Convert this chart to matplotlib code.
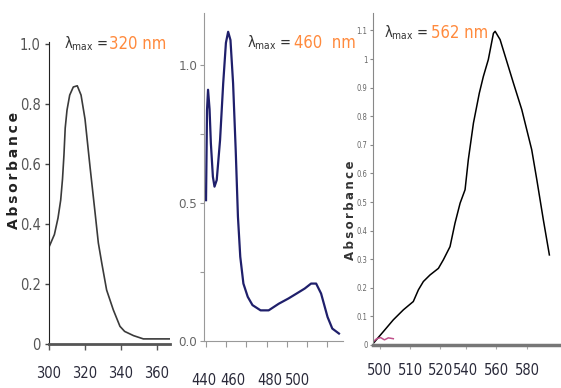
import matplotlib
matplotlib.use("Agg")
import matplotlib.pyplot as plt

# ---- data ----
wl_1 = [300.2, 303, 305, 306.5, 307.5, 308.3, 309, 310, 311.5, 313.5, 315.7, 317.8,
        320, 322.8, 325.6, 327.4, 329.3, 332, 335.7, 339.4, 342, 346.9, 352.4, 367]
abs_1 = [0.326, 0.365, 0.42, 0.48, 0.55, 0.63, 0.72, 0.78, 0.83, 0.857, 0.861, 0.83,
         0.75, 0.59, 0.437, 0.337, 0.27, 0.18, 0.114, 0.059, 0.042, 0.028, 0.017, 0.017]

wl_2 = [440, 441, 442, 443.5, 444.8, 446.8, 448.4, 450.6, 453.9, 457, 459.7, 461.9,
        464.2, 466.8, 469.4, 471.6, 473.9, 477, 481.3, 486, 494, 502, 512, 521.6,
        529.7, 537.7, 544, 549, 553.9, 560.3, 565, 571.6]
abs_2 = [0.51, 0.837, 0.91, 0.84, 0.716, 0.595, 0.559, 0.583, 0.728, 0.933, 1.08, 1.12,
         1.09, 0.933, 0.69, 0.45, 0.305, 0.208, 0.16, 0.13, 0.111, 0.111, 0.135, 0.154,
         0.172, 0.19, 0.208, 0.208, 0.172, 0.087, 0.045, 0.027]

wl_3 = [480.8, 487.3, 493.7, 500.2, 506.6, 509.9, 513.1, 517.4, 522.8, 526, 530.3,
        533.5, 536.8, 540, 542.1, 545.4, 549.2, 551.8, 555, 558.3, 559.4, 562.6, 566.9,
        571.2, 576.6, 579.8, 583, 586.3, 590.5, 594.4]
abs_3 = [0.006, 0.047, 0.088, 0.123, 0.152, 0.193, 0.222, 0.245, 0.268, 0.298, 0.344,
         0.426, 0.496, 0.543, 0.648, 0.776, 0.881, 0.939, 0.998, 1.09, 1.097, 1.068,
         0.992, 0.916, 0.823, 0.753, 0.683, 0.578, 0.438, 0.315]
# small blank trace in panel 3
wl_3b = [480.8, 483, 485.5, 488, 490.5, 493.7]
abs_3b = [0.012, 0.022, 0.026, 0.018, 0.025, 0.022]

x1_ticks = [300, 320, 340, 360]
y1_ticks = [0, 0.2, 0.4, 0.6, 0.8, 1.0]
y1_labels = ["0", "0.2", "0.4", "0.6", "0.8", "1.0"]

x2_ticks = [440, 460, 480, 500, 520, 540, 560]
x2_label_pos = [438, 467, 503, 531]
x2_labels = ["440", "460", "480", "500"]
y2_ticks = [0, 0.25, 0.5, 0.75, 1.0]
y2_labels = ["0.0", "", "0.5", "", "1.0"]

x3_label_pos = [485, 504.5, 524, 540.6, 560, 580]
x3_labels = ["500", "510", "520", "540", "560", "580"]
y3_ticks = [0, 0.1, 0.2, 0.3, 0.4, 0.5, 0.6, 0.7, 0.8, 0.9, 1.0, 1.1]
y3_labels = ["0", "0.1", "0.2", "0.3", "0.4", "0.5", "0.6", "0.7", "0.8", "0.9", "1", "1.1"]

lam_max = ["320 nm", "460  nm", "562 nm"]

plt.rcParams["font.family"] = ["DejaVu Sans"]
plt.rcParams["font.stretch"] = "condensed"
plt.rcParams["mathtext.default"] = "regular"

W, H = 561, 388
fig = plt.figure(figsize=(W / 100, H / 100), dpi=100)

def box(l, t, r, b):
    return [l / W, 1 - b / H, (r - l) / W, (b - t) / H]

def px(x, y):
    return x / W, 1 - y / H

ORANGE = "#ff8a3d"
DARK = "#333333"

ax1 = fig.add_axes(box(49, 42, 170, 344))
ax2 = fig.add_axes(box(204, 13, 343, 341))
ax3 = fig.add_axes(box(373, 13, 561, 345))

for ax in (ax1, ax2, ax3):
    ax.spines["top"].set_visible(False)
    ax.spines["right"].set_visible(False)
    ax.set_facecolor("none")

# ---- panel 1 ----
ax1.plot(wl_1, abs_1, color="#3a3a3a", lw=1.2)
ax1.set_xlim(300, 367.2)
ax1.set_ylim(0, 1.007)
ax1.set_xticks(x1_ticks)
ax1.set_yticks(y1_ticks, y1_labels)
ax1.spines["left"].set_color("#222222")
ax1.spines["bottom"].set_color("#555555")
ax1.spines["bottom"].set_linewidth(2)
ax1.tick_params(axis="x", length=4, width=1, color="#555555", pad=12,
                labelsize=10.5, labelcolor="#2a2a3a")
ax1.tick_params(axis="y", length=3, width=1, color="#444444", pad=3,
                labelsize=10.5, labelcolor="#555555")

# ---- panel 2 ----
ax2.plot(wl_2, abs_2, color="#1f1f6b", lw=1.6)
ax2.set_xlim(440, 575.6)
ax2.set_ylim(0, 1.188)
ax2.set_xticks(x2_ticks, [""] * len(x2_ticks))
ax2.set_xticks(x2_label_pos, x2_labels, minor=True)
ax2.set_yticks(y2_ticks, y2_labels)
for s in ("left", "bottom"):
    ax2.spines[s].set_color("#999999")
ax2.tick_params(axis="x", which="major", length=4, color="#999999")
ax2.tick_params(axis="x", which="minor", length=0, pad=23, labelsize=10.5,
                labelcolor="#2a2a3a")
ax2.tick_params(axis="y", length=3, color="#999999", pad=2, labelsize=9.5,
                labelcolor="#666666")

# ---- panel 3 ----
ax3.plot(wl_3, abs_3, color="black", lw=1.1)
ax3.plot(wl_3b, abs_3b, color="#c0508a", lw=1.1)
ax3.set_xlim(480.6, 601.9)
ax3.set_ylim(0, 1.161)
ax3.set_xticks(x3_label_pos, x3_labels)
ax3.set_yticks(y3_ticks, y3_labels)
ax3.spines["left"].set_color("#888888")
ax3.spines["bottom"].set_color("#777777")
ax3.spines["bottom"].set_linewidth(2.5)
ax3.tick_params(axis="x", length=3, color="#aaaaaa", pad=10, labelsize=10.5,
                labelcolor="#2a2a3a")
ax3.tick_params(axis="y", length=2, color="#888888", pad=2, labelsize=5.5,
                labelcolor="#666666")

# ---- axis titles ----
sp = "\u2009"
fig.text(*px(14, 170), sp.join("Absorbance"), rotation=90, ha="center", va="center",
         fontsize=10, fontweight="bold", fontstretch="normal", color="#222222")
fig.text(*px(351, 210), sp.join("Absorbance"), rotation=90, ha="center", va="center",
         fontsize=8.5, fontweight="bold", fontstretch="normal", color="#333333")

# ---- lambda max annotations ----
for (xl, xv, y), val in zip([(64, 109, 44), (247, 294, 43), (384, 431, 33)], lam_max):
    fig.text(*px(xl, y), r"$\lambda_{max}$ =", ha="left", va="center",
             fontsize=10.5, color=DARK)
    fig.text(*px(xv, y), val, ha="left", va="center", fontsize=12, color=ORANGE)

fig.savefig("out.png", dpi=100)
